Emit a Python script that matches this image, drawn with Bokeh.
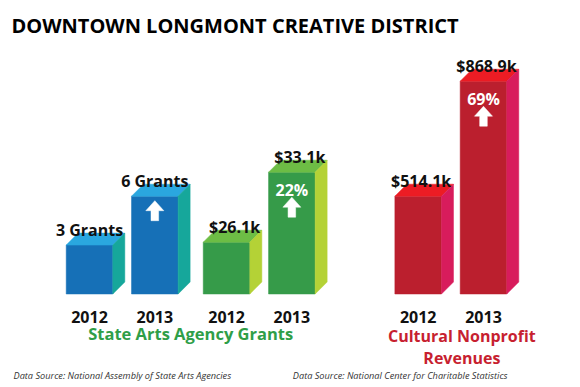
from bokeh.plotting import figure
from bokeh.models import FactorRange, Range1d, Label, ColumnDataSource
from bokeh.core.properties import value
from bokeh.embed import file_html
from bokeh.resources import INLINE

# ---------------- data ----------------
title = "DOWNTOWN LONGMONT CREATIVE DISTRICT"
years = ["2012", "2013"]

grants = [3, 6]
grant_labels = ["3 Grants", "6 Grants"]
grant_change = ["", ""]

arts_dollars = [26.1, 33.1]
arts_dollar_labels = ["$26.1k", "$33.1k"]
arts_dollar_change = ["", "22%"]

revenues = [514.1, 868.9]
revenue_labels = ["$514.1k", "$868.9k"]
revenue_change = ["", "69%"]

caption_arts = "State Arts Agency Grants"
caption_nonprofit = ["Cultural Nonprofit", "Revenues"]
source_arts = "Data Source: National Assembly of State Arts Agencies"
source_nonprofit = "Data Source: National Center for Charitable Statistics"

# ---------------- layout / style ----------------
FONT = "Open Sans"
W, H = 580, 387
BORDER_R = 8
FP, SP, GP, RP = 0.306, 0.434, 1.526, 1.28
SPAN = 6 + 3 * FP + SP + GP + 2 * RP
U = (W - BORDER_R) / SPAN          # px per factor unit
BAR_W = 46.6 / U
DEPTH = 12.0                       # px
BASE_PX = 93.5                     # baseline height above frame bottom, px

series = [
    dict(key="grants", panel="arts", vals=grants, labels=grant_labels, change=grant_change,
         base=0.0, k=16.3, front="#1670b7", top="#2aa7df", side="#16a79b", dx=0),
    dict(key="dollars", panel="arts", vals=arts_dollars, labels=arts_dollar_labels,
         change=arts_dollar_change, base=20.92, k=10.0,
         front="#369b49", top="#6dbd45", side="#b4d236", dx=8),
    dict(key="revenue", panel="nonprofit", vals=revenues, labels=revenue_labels,
         change=revenue_change, base=212.3, k=0.3241,
         front="#bb1f2e", top="#ec1c24", side="#d81c5c", dx=3),
]

factors = [(s["panel"], s["key"], y) for s in series for y in years]
x_range = FactorRange(*factors, factor_padding=FP, subgroup_padding=SP,
                      group_padding=GP, range_padding=RP,
                      range_padding_units="absolute")

p = figure(width=W, height=H, x_range=x_range, y_range=Range1d(0, H),
           output_backend="svg", toolbar_location=None,
           x_axis_location=None, y_axis_location=None,
           min_border_left=0, min_border_right=BORDER_R,
           min_border_top=0, min_border_bottom=0)
p.grid.visible = False
p.outline_line_color = None
p.background_fill_color = "white"
p.border_fill_color = "white"

hw = BAR_W / 2
dx = DEPTH / U

for s in series:
    key, k, b = s["key"], s["k"], s["base"]
    start = b - BASE_PX / k
    p.extra_y_ranges[key] = Range1d(start, start + H / k)
    xs = [(s["panel"], key, y) for y in years]
    src = ColumnDataSource(dict(x=xs, top=s["vals"], label=s["labels"], change=s["change"]))
    p.vbar(x="x", top="top", bottom=b, width=BAR_W, source=src, y_range_name=key,
           fill_color=s["front"], line_color=s["front"], line_width=0.5)
    dy = DEPTH / k
    for i, v in enumerate(s["vals"]):
        fx = xs[i]
        p.patch(x=[fx + (-hw,), fx + (hw,), fx + (hw + dx,), fx + (-hw + dx,)],
                y=[v, v, v + dy, v + dy], y_range_name=key,
                fill_color=s["top"], line_color=s["top"], line_width=0.5)
        p.patch(x=[fx + (hw,), fx + (hw + dx,), fx + (hw + dx,), fx + (hw,)],
                y=[v, v + dy, b + dy, b], y_range_name=key,
                fill_color=s["side"], line_color=s["side"], line_width=0.5)
        # up arrow when the value grew
        if i > 0 and v > s["vals"][i - 1]:
            off = 25.0 if s["change"][i] else 4.5
            pts = [(0, 0), (9, 10), (3.8, 10), (3.8, 20), (-3.8, 20), (-3.8, 10), (-9, 10)]
            p.patch(x=[fx + (px_ / U,) for px_, _ in pts],
                    y=[v - (off + py_) / k for _, py_ in pts], y_range_name=key,
                    fill_color="white", line_color="white", line_width=0.5)
    p.text(x="x", y="top", text="label", source=src, y_range_name=key,
           x_offset=s["dx"], y_offset=-15.5, text_align="center", text_baseline="alphabetic",
           text_font=value(FONT), text_font_style="bold", text_font_size="16px",
           text_color="#111111")
    p.text(x="x", y="top", text="change", source=src, y_range_name=key,
           y_offset=17.5, text_align="center", text_baseline="alphabetic",
           text_font=value(FONT), text_font_style="bold", text_font_size="16px",
           text_color="white")

# year labels
p.text(x=factors, y=[70.5] * len(factors), text=[f[2] for f in factors],
       text_align="center", text_baseline="alphabetic", text_font=value(FONT),
       text_font_style="bold", text_font_size="16px", text_color="#111111")

# captions
p.text(x=["arts"], y=[54.5], text=[caption_arts], text_align="center",
       text_baseline="alphabetic", text_font=value(FONT), text_font_style="bold",
       text_font_size="16.5px", text_color="#2f9e48")
p.text(x=["nonprofit", "nonprofit"], y=[52, 30], text=caption_nonprofit,
       x_offset=11, text_align="center", text_baseline="alphabetic",
       text_font=value(FONT), text_font_style="bold", text_font_size="16px",
       text_color="#c71f30")

# title and sources
p.add_layout(Label(x=11, y=362, x_units="screen", y_units="screen", text=title,
                   text_font=FONT, text_font_style="bold", text_font_size="20px",
                   text_color="black", text_baseline="alphabetic"))
p.add_layout(Label(x=13, y=12, x_units="screen", y_units="screen", text=source_arts,
                   text_font=FONT, text_font_style="italic", text_font_size="9.2px",
                   text_color="#333333", text_baseline="alphabetic"))
p.add_layout(Label(x=507, y=12, x_units="screen", y_units="screen", text=source_nonprofit,
                   text_font=FONT, text_font_style="italic", text_font_size="9.2px",
                   text_color="#333333", text_baseline="alphabetic", text_align="right"))

open("out.html", "w").write(file_html(p, INLINE))
